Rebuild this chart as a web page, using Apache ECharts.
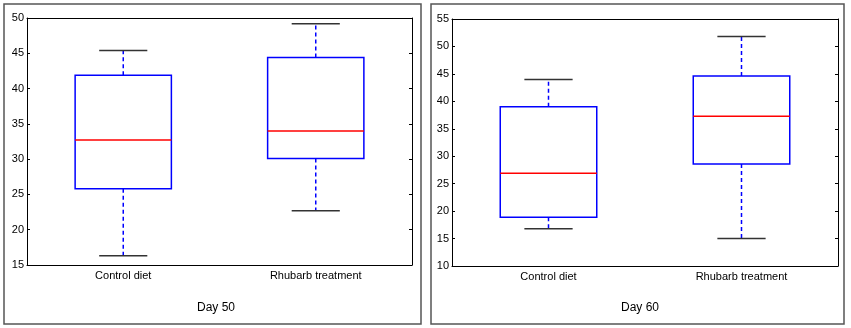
<!DOCTYPE html>
<html lang="en">
<head>
    <meta charset="UTF-8">
    <title>Box plots</title>
    <script src="https://cdn.jsdelivr.net/npm/echarts@6/dist/echarts.min.js"></script>
    <style>
        html, body { margin: 0; padding: 0; background: #fff; }
    </style>
</head>
<body>
<div id="main" style="width:851px;height:328px;"></div>
<script>
    // categories shared by both panels
    const categories = ['Control diet', 'Rhubarb treatment'];
    // [min, Q1, median, Q3, max] for each category
    const day50 = [
        [16.3, 25.8, 32.7, 41.9, 45.4],
        [22.7, 30.1, 34.0, 44.4, 49.2]
    ];
    const day60 = [
        [16.8, 18.9, 26.9, 39.0, 44.0],
        [15.0, 28.6, 37.3, 44.6, 51.8]
    ];
    const titles = ['Day 50', 'Day 60'];

    let myChart = echarts.init(document.getElementById('main'));

    const font = 'Liberation Sans, Arial, sans-serif';

    function renderBox(params, api) {
        let x = api.value(0);
        let band = api.size([1, 0])[0];
        let half = band * 0.25;
        let capHalf = band * 0.125;
        let pMin = api.coord([x, api.value(1)]);
        let pQ1 = api.coord([x, api.value(2)]);
        let pMed = api.coord([x, api.value(3)]);
        let pQ3 = api.coord([x, api.value(4)]);
        let pMax = api.coord([x, api.value(5)]);
        let cx = pMed[0];
        let dashStyle = {stroke: '#0000ff', lineWidth: 1.5, lineDash: [4, 3]};
        let capStyle = {stroke: '#333', lineWidth: 1.5};
        return {
            type: 'group',
            children: [
                {type: 'line', shape: {x1: cx, y1: pQ3[1], x2: cx, y2: pMax[1]}, style: dashStyle},
                {type: 'line', shape: {x1: cx, y1: pQ1[1], x2: cx, y2: pMin[1]}, style: dashStyle},
                {type: 'line', shape: {x1: cx - capHalf, y1: pMax[1], x2: cx + capHalf, y2: pMax[1]}, style: capStyle},
                {type: 'line', shape: {x1: cx - capHalf, y1: pMin[1], x2: cx + capHalf, y2: pMin[1]}, style: capStyle},
                {type: 'rect', shape: {x: cx - half, y: pQ3[1], width: half * 2, height: pQ1[1] - pQ3[1]},
                    style: {fill: null, stroke: '#0000ff', lineWidth: 1.5}},
                {type: 'line', shape: {x1: cx - half, y1: pMed[1], x2: cx + half, y2: pMed[1]},
                    style: {stroke: '#ff0000', lineWidth: 1.5}}
            ]
        };
    }

    function toData(arr) {
        return arr.map((v, i) => [i].concat(v));
    }

    const axisLine = {show: true, lineStyle: {color: '#000', width: 1}};

    function xAxes(grid) {
        return [
            {type: 'category', gridIndex: grid, data: categories, position: 'bottom',
                axisLine: axisLine,
                axisTick: {inside: true, alignWithLabel: true, length: 3, lineStyle: {color: '#000'}},
                axisLabel: {color: '#000', fontSize: 11, fontFamily: font, margin: 5}},
            {type: 'category', gridIndex: grid, data: categories, position: 'top',
                axisLine: axisLine,
                axisTick: {inside: true, alignWithLabel: true, length: 3, lineStyle: {color: '#000'}},
                axisLabel: {show: false}}
        ];
    }

    function yAxes(grid, min, max) {
        return [
            {type: 'value', gridIndex: grid, min: min, max: max, interval: 5, position: 'left',
                axisLine: axisLine,
                axisTick: {show: true, inside: true, length: 3, lineStyle: {color: '#000'}},
                splitLine: {show: false},
                axisLabel: {color: '#000', fontSize: 11, fontFamily: font, margin: 3}},
            {type: 'value', gridIndex: grid, min: min, max: max, interval: 5, position: 'right',
                axisLine: axisLine,
                axisTick: {show: true, inside: true, length: 3, lineStyle: {color: '#000'}},
                splitLine: {show: false},
                axisLabel: {show: false}}
        ];
    }

    let option = {
        animation: false,
        backgroundColor: '#fff',
        title: [
            {text: titles[0], left: 211, top: 297, textAlign: 'center',
                textStyle: {color: '#000', fontSize: 12, fontWeight: 'normal', fontFamily: font}},
            {text: titles[1], left: 635, top: 297, textAlign: 'center',
                textStyle: {color: '#000', fontSize: 12, fontWeight: 'normal', fontFamily: font}}
        ],
        grid: [
            {left: 27, top: 18, width: 385, height: 247},
            {left: 452, top: 19, width: 386, height: 247}
        ],
        xAxis: xAxes(0).concat(xAxes(1)),
        yAxis: yAxes(0, 15, 50).concat(yAxes(1, 10, 55)),
        graphic: [
            {type: 'rect', silent: true, z: -1, shape: {x: 4, y: 4, width: 417, height: 320},
                style: {fill: null, stroke: '#555', lineWidth: 1.5}},
            {type: 'rect', silent: true, z: -1, shape: {x: 431, y: 4, width: 413, height: 320},
                style: {fill: null, stroke: '#555', lineWidth: 1.5}}
        ],
        series: [
            {type: 'custom', xAxisIndex: 0, yAxisIndex: 0, renderItem: renderBox,
                encode: {x: 0, y: [1, 2, 3, 4, 5]}, data: toData(day50)},
            {type: 'custom', xAxisIndex: 2, yAxisIndex: 2, renderItem: renderBox,
                encode: {x: 0, y: [1, 2, 3, 4, 5]}, data: toData(day60)}
        ]
    };

    myChart.setOption(option);
</script>
</body>
</html>
